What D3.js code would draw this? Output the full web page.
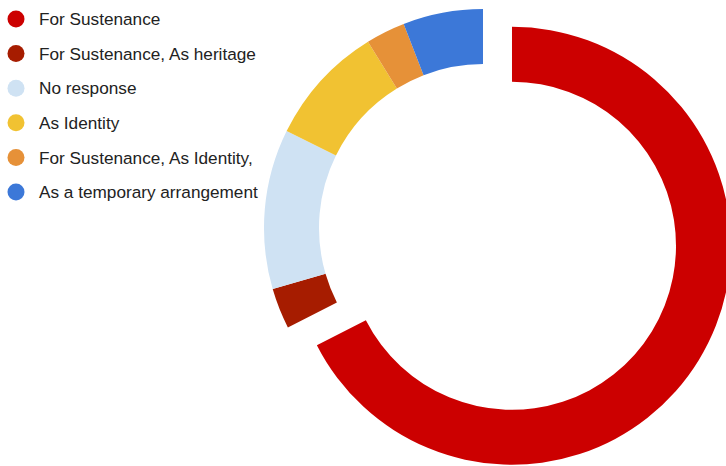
<!DOCTYPE html>
<html>
<head>
<meta charset="utf-8">
<script src="https://cdn.jsdelivr.net/npm/d3@7"></script>
<style>
  html, body { margin: 0; padding: 0; background: #fff; }
  svg { display: block; }
</style>
</head>
<body>
<svg id="chart" width="726" height="466"></svg>
<script>
// Reasons given, share of responses (%)
const categories = [
  "For Sustenance",
  "For Sustenance, As heritage",
  "No response",
  "As Identity",
  "For Sustenance, As Identity,",
  "As a temporary arrangement"
];
const values = [67.5, 3.0, 11.8, 8.9, 2.9, 5.9];
const colors = ["#cc0000", "#a61c00", "#cfe2f3", "#f1c232", "#e69138", "#3c78d8"];
// Slice pulled out from the ring
const explodedIndex = 0;

const svg = d3.select("#chart");
const width = 726, height = 466;

const cx = 483, cy = 228;
const outerR = 219, innerR = 164;
const explode = 34;

const data = categories.map((c, i) => ({ label: c, value: values[i], color: colors[i], i }));

const pie = d3.pie()
  .value(d => d.value)
  .sort(null)
  .startAngle(0)
  .endAngle(2 * Math.PI);

const arc = d3.arc()
  .innerRadius(innerR)
  .outerRadius(outerR);

const g = svg.append("g").attr("transform", `translate(${cx},${cy})`);

g.selectAll("path.slice")
  .data(pie(data))
  .join("path")
  .attr("class", "slice")
  .attr("fill", d => d.data.color)
  .attr("transform", d => {
    if (d.data.i !== explodedIndex) return null;
    const mid = (d.startAngle + d.endAngle) / 2;
    return `translate(${explode * Math.sin(mid)},${-explode * Math.cos(mid)})`;
  })
  .attr("d", arc);

// Legend
const legend = svg.append("g").attr("transform", "translate(16,19)");
const rowH = 34.6;
const rows = legend.selectAll("g.row")
  .data(data)
  .join("g")
  .attr("class", "row")
  .attr("transform", (d, i) => `translate(0,${i * rowH})`);

rows.append("circle")
  .attr("r", 8.5)
  .attr("fill", d => d.color);

rows.append("text")
  .attr("x", 23)
  .attr("y", 0)
  .attr("dy", "0.36em")
  .attr("font-family", "Liberation Sans, Arial, sans-serif")
  .attr("font-size", 17.2)
  .attr("fill", "#222")
  .text(d => d.label);
</script>
</body>
</html>
